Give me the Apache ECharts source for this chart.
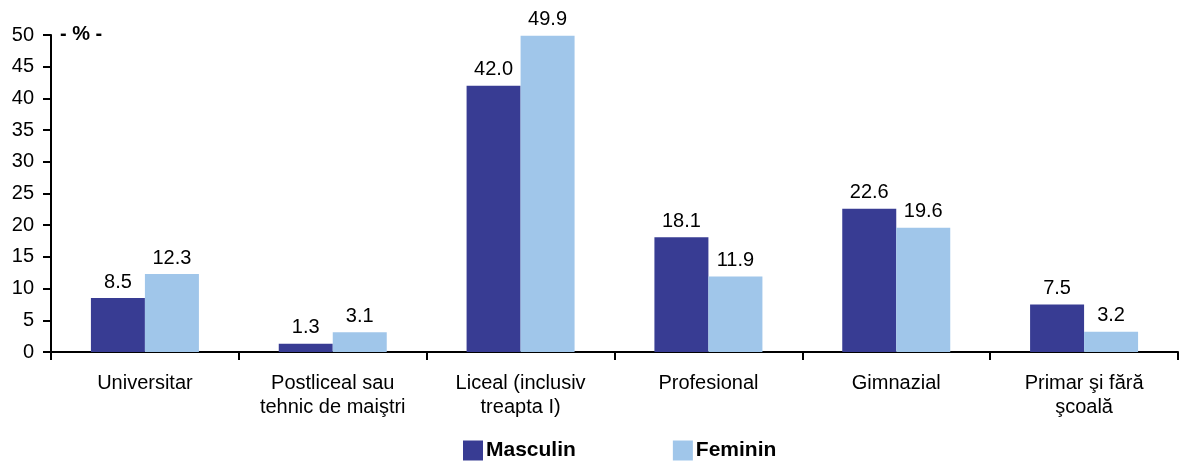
<!DOCTYPE html>
<html>
<head>
<meta charset="utf-8">
<script src="https://cdn.jsdelivr.net/npm/echarts@6/dist/echarts.min.js"></script>
<style>
  html, body { margin: 0; padding: 0; background: #fff; }
  #chart { width: 1181px; height: 461px; }
</style>
</head>
<body>
<div id="chart"></div>
<script>
const categories = [
  'Universitar',
  'Postliceal sau\ntehnic de maiştri',
  'Liceal (inclusiv\ntreapta I)',
  'Profesional',
  'Gimnazial',
  'Primar şi fără\nşcoală',
];
const masculin = [8.5, 1.3, 42.0, 18.1, 22.6, 7.5];
const feminin = [12.3, 3.1, 49.9, 11.9, 19.6, 3.2];
const yTicks = { min: 0, max: 50, interval: 5 };

const font = 'Liberation Sans, Arial, sans-serif';

const chart = echarts.init(document.getElementById('chart'));

const labelStyle = {
  show: true,
  position: 'top',
  distance: 6,
  color: '#000',
  fontSize: 20,
  fontFamily: font,
  formatter: (p) => p.value.toFixed(1),
};

const option = {
  animation: false,
  textStyle: { fontFamily: font },
  grid: {
    left: 51,
    right: 3,
    top: 35,
    bottom: 109,
  },
  legend: {
    top: 440,
    left: 463,
    padding: 0,
    itemWidth: 20,
    itemHeight: 20,
    itemGap: 97,
    icon: 'rect',
    textStyle: {
      fontSize: 21,
      fontWeight: 'bold',
      color: '#000',
      fontFamily: font,
      padding: [0, 0, 0, -2],
    },
  },
  graphic: [
    {
      type: 'text',
      left: 60,
      top: 24,
      style: {
        text: '- % -',
        font: 'bold 20px ' + font,
        fill: '#000',
      },
    },
  ],
  xAxis: {
    type: 'category',
    data: categories,
    axisLine: { lineStyle: { color: '#000', width: 2 } },
    axisTick: { show: true, length: 8, lineStyle: { color: '#000', width: 2 } },
    axisLabel: {
      color: '#000',
      fontSize: 20,
      lineHeight: 24,
      margin: 19,
      fontFamily: font,
      interval: 0,
    },
  },
  yAxis: {
    type: 'value',
    min: yTicks.min,
    max: yTicks.max,
    interval: yTicks.interval,
    splitLine: { show: false },
    axisLine: { show: true, lineStyle: { color: '#000', width: 2 } },
    axisTick: { show: true, length: 8, lineStyle: { color: '#000', width: 2 } },
    axisLabel: {
      color: '#000',
      fontSize: 20,
      margin: 17,
      fontFamily: font,
    },
  },
  series: [
    {
      name: 'Masculin',
      type: 'bar',
      data: masculin,
      barWidth: 54,
      barGap: '0%',
      itemStyle: { color: '#383C93' },
      label: labelStyle,
    },
    {
      name: 'Feminin',
      type: 'bar',
      data: feminin,
      barWidth: 54,
      barGap: '0%',
      itemStyle: { color: '#A0C6EA' },
      label: labelStyle,
    },
  ],
};

chart.setOption(option);
</script>
</body>
</html>
